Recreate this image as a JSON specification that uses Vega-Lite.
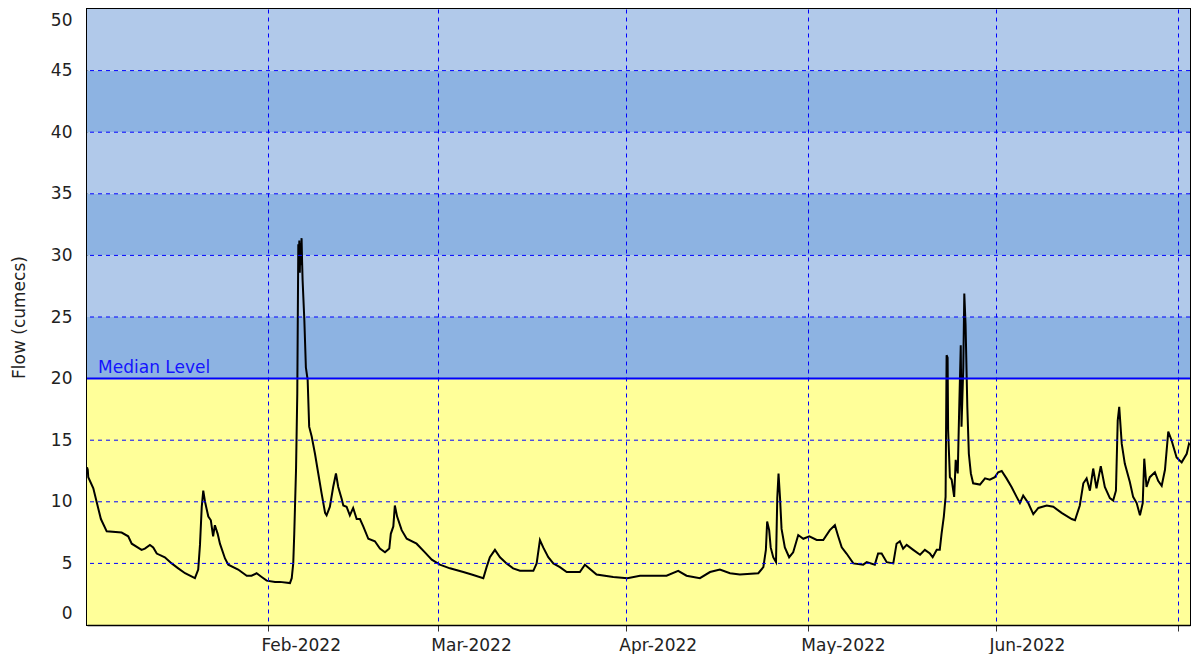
{
  "$schema": "https://vega.github.io/schema/vega-lite/v6.json",
  "width": 1103,
  "height": 616,
  "autosize": {"type": "none"},
  "padding": {"left": 87, "top": 9, "right": 2, "bottom": 29},
  "background": "white",
  "config": {
    "font": "DejaVu Sans",
    "view": {"stroke": "black", "strokeWidth": 2},
    "axisX": {
      "domainColor": "black", "domainWidth": 1.5, "tickColor": "#333", "tickSize": 6,
      "labelPadding": 6, "labelAlign": "left", "labelOffset": -7, "labelFontSize": 17,
      "labelColor": "#222", "labelFlush": false
    },
    "axisY": {
      "domainColor": "black", "domainWidth": 1.5, "ticks": false, "tickSize": 0, "labelPadding": 15,
      "labelFontSize": 17, "labelColor": "#222", "labelFlush": true, "labelFlushOffset": -3,
      "titleFontSize": 17, "titleFontWeight": "normal", "titleColor": "#222", "titlePadding": 22, "grid": false
    }
  },
  "layer": [
    {
      "data": {"values": [
        {"lo": 0, "hi": 20, "band": "below"},
        {"lo": 20, "hi": 25, "band": "dark"},
        {"lo": 25, "hi": 30, "band": "light"},
        {"lo": 30, "hi": 35, "band": "dark"},
        {"lo": 35, "hi": 40, "band": "light"},
        {"lo": 40, "hi": 45, "band": "dark"},
        {"lo": 45, "hi": 50, "band": "light"}
      ]},
      "mark": {"type": "rect"},
      "encoding": {
        "y": {"field": "lo", "type": "quantitative", "title": "Flow (cumecs)",
              "scale": {"domain": [0, 50], "nice": false},
              "axis": {"values": [0, 5, 10, 15, 20, 25, 30, 35, 40, 45, 50], "zindex": 0, "grid": false}},
        "y2": {"field": "hi"},
        "color": {"field": "band", "type": "nominal",
                  "scale": {"domain": ["below", "dark", "light"], "range": ["#ffff99", "#8db3e2", "#b1c9ea"]},
                  "legend": null}
      }
    },
    {
      "data": {"values": [
        {"t": "2022-01-02T04:00", "flow": 12.8},
        {"t": "2022-01-02T07:00", "flow": 12.6},
        {"t": "2022-01-02T09:00", "flow": 12.0},
        {"t": "2022-01-03T05:00", "flow": 11.1},
        {"t": "2022-01-03T18:00", "flow": 10.0},
        {"t": "2022-01-04T11:00", "flow": 8.6},
        {"t": "2022-01-05T10:00", "flow": 7.6},
        {"t": "2022-01-07T21:00", "flow": 7.5},
        {"t": "2022-01-08T23:00", "flow": 7.2},
        {"t": "2022-01-09T13:00", "flow": 6.6},
        {"t": "2022-01-11T04:00", "flow": 6.1},
        {"t": "2022-01-11T17:00", "flow": 6.2},
        {"t": "2022-01-12T13:00", "flow": 6.5},
        {"t": "2022-01-13T02:00", "flow": 6.3},
        {"t": "2022-01-13T16:00", "flow": 5.8},
        {"t": "2022-01-15T00:00", "flow": 5.5},
        {"t": "2022-01-16T03:00", "flow": 5.0},
        {"t": "2022-01-17T05:00", "flow": 4.6},
        {"t": "2022-01-18T08:00", "flow": 4.2},
        {"t": "2022-01-19T23:00", "flow": 3.8},
        {"t": "2022-01-20T12:00", "flow": 4.5},
        {"t": "2022-01-20T19:00", "flow": 6.5},
        {"t": "2022-01-21T02:00", "flow": 9.6},
        {"t": "2022-01-21T08:00", "flow": 10.9},
        {"t": "2022-01-21T15:00", "flow": 10.0},
        {"t": "2022-01-22T04:00", "flow": 8.8},
        {"t": "2022-01-22T14:00", "flow": 8.5},
        {"t": "2022-01-22T23:00", "flow": 7.2},
        {"t": "2022-01-23T06:00", "flow": 8.1},
        {"t": "2022-01-23T17:00", "flow": 7.4},
        {"t": "2022-01-24T02:00", "flow": 6.6},
        {"t": "2022-01-24T22:00", "flow": 5.4},
        {"t": "2022-01-25T11:00", "flow": 4.9},
        {"t": "2022-01-27T02:00", "flow": 4.5},
        {"t": "2022-01-28T12:00", "flow": 4.0},
        {"t": "2022-01-29T07:00", "flow": 4.0},
        {"t": "2022-01-30T03:00", "flow": 4.2},
        {"t": "2022-01-30T23:00", "flow": 3.9},
        {"t": "2022-01-31T19:00", "flow": 3.6},
        {"t": "2022-02-02T04:00", "flow": 3.5},
        {"t": "2022-02-02T23:00", "flow": 3.5},
        {"t": "2022-02-04T15:00", "flow": 3.4},
        {"t": "2022-02-04T22:00", "flow": 3.8},
        {"t": "2022-02-05T04:00", "flow": 5.0},
        {"t": "2022-02-05T08:00", "flow": 7.4},
        {"t": "2022-02-05T15:00", "flow": 12.6},
        {"t": "2022-02-05T20:00", "flow": 18.8},
        {"t": "2022-02-06T00:00", "flow": 30.9},
        {"t": "2022-02-06T02:00", "flow": 29.0},
        {"t": "2022-02-06T04:00", "flow": 31.2},
        {"t": "2022-02-06T06:00", "flow": 28.6},
        {"t": "2022-02-06T08:00", "flow": 31.0},
        {"t": "2022-02-06T10:00", "flow": 29.2},
        {"t": "2022-02-06T13:00", "flow": 31.4},
        {"t": "2022-02-06T15:00", "flow": 29.5},
        {"t": "2022-02-06T17:00", "flow": 28.0},
        {"t": "2022-02-07T00:00", "flow": 24.7},
        {"t": "2022-02-07T06:00", "flow": 20.9},
        {"t": "2022-02-07T13:00", "flow": 19.9},
        {"t": "2022-02-07T19:00", "flow": 16.1},
        {"t": "2022-02-08T05:00", "flow": 15.3},
        {"t": "2022-02-08T18:00", "flow": 13.9},
        {"t": "2022-02-09T07:00", "flow": 12.3},
        {"t": "2022-02-09T20:00", "flow": 10.7},
        {"t": "2022-02-10T10:00", "flow": 9.1},
        {"t": "2022-02-10T16:00", "flow": 8.9},
        {"t": "2022-02-11T05:00", "flow": 9.6},
        {"t": "2022-02-11T18:00", "flow": 11.2},
        {"t": "2022-02-12T05:00", "flow": 12.3},
        {"t": "2022-02-12T14:00", "flow": 11.2},
        {"t": "2022-02-13T04:00", "flow": 10.2},
        {"t": "2022-02-13T10:00", "flow": 9.7},
        {"t": "2022-02-13T23:00", "flow": 9.6},
        {"t": "2022-02-14T12:00", "flow": 8.9},
        {"t": "2022-02-15T01:00", "flow": 9.5},
        {"t": "2022-02-15T15:00", "flow": 8.6},
        {"t": "2022-02-16T04:00", "flow": 8.6},
        {"t": "2022-02-16T17:00", "flow": 8.0},
        {"t": "2022-02-17T13:00", "flow": 7.0},
        {"t": "2022-02-18T15:00", "flow": 6.8},
        {"t": "2022-02-19T11:00", "flow": 6.2},
        {"t": "2022-02-20T07:00", "flow": 5.9},
        {"t": "2022-02-21T00:00", "flow": 6.2},
        {"t": "2022-02-21T06:00", "flow": 7.4},
        {"t": "2022-02-21T16:00", "flow": 8.0},
        {"t": "2022-02-21T22:00", "flow": 9.7},
        {"t": "2022-02-22T07:00", "flow": 8.8},
        {"t": "2022-02-23T01:00", "flow": 7.7},
        {"t": "2022-02-23T21:00", "flow": 7.0},
        {"t": "2022-02-25T12:00", "flow": 6.6},
        {"t": "2022-02-26T21:00", "flow": 5.9},
        {"t": "2022-02-28T00:00", "flow": 5.3},
        {"t": "2022-03-01T08:00", "flow": 4.9},
        {"t": "2022-03-03T00:00", "flow": 4.6},
        {"t": "2022-03-05T05:00", "flow": 4.3},
        {"t": "2022-03-06T14:00", "flow": 4.1},
        {"t": "2022-03-08T12:00", "flow": 3.8},
        {"t": "2022-03-09T01:00", "flow": 4.7},
        {"t": "2022-03-09T14:00", "flow": 5.5},
        {"t": "2022-03-10T10:00", "flow": 6.1},
        {"t": "2022-03-11T06:00", "flow": 5.5},
        {"t": "2022-03-12T08:00", "flow": 5.0},
        {"t": "2022-03-13T10:00", "flow": 4.6},
        {"t": "2022-03-14T13:00", "flow": 4.4},
        {"t": "2022-03-16T18:00", "flow": 4.4},
        {"t": "2022-03-17T07:00", "flow": 5.0},
        {"t": "2022-03-17T20:00", "flow": 6.9},
        {"t": "2022-03-18T09:00", "flow": 6.3},
        {"t": "2022-03-19T05:00", "flow": 5.5},
        {"t": "2022-03-20T01:00", "flow": 5.0},
        {"t": "2022-03-21T03:00", "flow": 4.7},
        {"t": "2022-03-22T06:00", "flow": 4.3},
        {"t": "2022-03-24T10:00", "flow": 4.3},
        {"t": "2022-03-25T06:00", "flow": 4.9},
        {"t": "2022-03-27T04:00", "flow": 4.1},
        {"t": "2022-03-29T22:00", "flow": 3.9},
        {"t": "2022-04-01T06:00", "flow": 3.8},
        {"t": "2022-04-03T08:00", "flow": 4.0},
        {"t": "2022-04-07T17:00", "flow": 4.0},
        {"t": "2022-04-09T15:00", "flow": 4.4},
        {"t": "2022-04-11T00:00", "flow": 4.0},
        {"t": "2022-04-13T05:00", "flow": 3.8},
        {"t": "2022-04-14T21:00", "flow": 4.3},
        {"t": "2022-04-16T12:00", "flow": 4.5},
        {"t": "2022-04-18T04:00", "flow": 4.2},
        {"t": "2022-04-19T19:00", "flow": 4.1},
        {"t": "2022-04-22T20:00", "flow": 4.2},
        {"t": "2022-04-23T16:00", "flow": 4.7},
        {"t": "2022-04-24T02:00", "flow": 6.1},
        {"t": "2022-04-24T07:00", "flow": 8.4},
        {"t": "2022-04-24T15:00", "flow": 7.7},
        {"t": "2022-04-24T21:00", "flow": 6.3},
        {"t": "2022-04-25T07:00", "flow": 5.5},
        {"t": "2022-04-25T18:00", "flow": 5.1},
        {"t": "2022-04-25T23:00", "flow": 10.3},
        {"t": "2022-04-26T04:00", "flow": 12.3},
        {"t": "2022-04-26T10:00", "flow": 10.3},
        {"t": "2022-04-26T16:00", "flow": 7.8},
        {"t": "2022-04-27T05:00", "flow": 6.3},
        {"t": "2022-04-27T22:00", "flow": 5.5},
        {"t": "2022-04-28T14:00", "flow": 5.9},
        {"t": "2022-04-29T10:00", "flow": 7.3},
        {"t": "2022-04-30T06:00", "flow": 7.0},
        {"t": "2022-05-01T06:00", "flow": 7.2},
        {"t": "2022-05-02T11:00", "flow": 6.9},
        {"t": "2022-05-03T13:00", "flow": 6.9},
        {"t": "2022-05-04T15:00", "flow": 7.7},
        {"t": "2022-05-05T11:00", "flow": 8.1},
        {"t": "2022-05-06T00:00", "flow": 7.2},
        {"t": "2022-05-06T14:00", "flow": 6.3},
        {"t": "2022-05-07T09:00", "flow": 5.8},
        {"t": "2022-05-08T12:00", "flow": 5.0},
        {"t": "2022-05-10T03:00", "flow": 4.9},
        {"t": "2022-05-10T17:00", "flow": 5.1},
        {"t": "2022-05-12T01:00", "flow": 4.9},
        {"t": "2022-05-12T14:00", "flow": 5.8},
        {"t": "2022-05-13T04:00", "flow": 5.8},
        {"t": "2022-05-14T00:00", "flow": 5.1},
        {"t": "2022-05-15T02:00", "flow": 5.0},
        {"t": "2022-05-15T15:00", "flow": 6.6},
        {"t": "2022-05-16T04:00", "flow": 6.8},
        {"t": "2022-05-16T17:00", "flow": 6.2},
        {"t": "2022-05-17T07:00", "flow": 6.5},
        {"t": "2022-05-18T09:00", "flow": 6.1},
        {"t": "2022-05-19T12:00", "flow": 5.7},
        {"t": "2022-05-20T07:00", "flow": 6.1},
        {"t": "2022-05-21T03:00", "flow": 5.8},
        {"t": "2022-05-21T14:00", "flow": 5.5},
        {"t": "2022-05-22T06:00", "flow": 6.1},
        {"t": "2022-05-22T18:00", "flow": 6.1},
        {"t": "2022-05-23T01:00", "flow": 7.4},
        {"t": "2022-05-23T10:00", "flow": 8.8},
        {"t": "2022-05-23T17:00", "flow": 10.4},
        {"t": "2022-05-23T21:00", "flow": 21.9},
        {"t": "2022-05-24T01:00", "flow": 21.7},
        {"t": "2022-05-24T03:00", "flow": 15.8},
        {"t": "2022-05-24T10:00", "flow": 12.0},
        {"t": "2022-05-24T17:00", "flow": 11.8},
        {"t": "2022-05-25T03:00", "flow": 10.4},
        {"t": "2022-05-25T09:00", "flow": 13.4},
        {"t": "2022-05-25T17:00", "flow": 12.3},
        {"t": "2022-05-25T23:00", "flow": 17.7},
        {"t": "2022-05-26T05:00", "flow": 22.7},
        {"t": "2022-05-26T08:00", "flow": 16.1},
        {"t": "2022-05-26T15:00", "flow": 20.9},
        {"t": "2022-05-26T19:00", "flow": 26.9},
        {"t": "2022-05-27T00:00", "flow": 24.4},
        {"t": "2022-05-27T07:00", "flow": 17.7},
        {"t": "2022-05-27T13:00", "flow": 13.9},
        {"t": "2022-05-27T21:00", "flow": 12.3},
        {"t": "2022-05-28T06:00", "flow": 11.5},
        {"t": "2022-05-29T09:00", "flow": 11.4},
        {"t": "2022-05-30T05:00", "flow": 11.9},
        {"t": "2022-05-31T00:00", "flow": 11.8},
        {"t": "2022-05-31T20:00", "flow": 12.0},
        {"t": "2022-06-01T09:00", "flow": 12.4},
        {"t": "2022-06-01T23:00", "flow": 12.5},
        {"t": "2022-06-02T18:00", "flow": 11.9},
        {"t": "2022-06-03T14:00", "flow": 11.2},
        {"t": "2022-06-04T10:00", "flow": 10.4},
        {"t": "2022-06-04T23:00", "flow": 9.9},
        {"t": "2022-06-05T12:00", "flow": 10.5},
        {"t": "2022-06-06T08:00", "flow": 9.9},
        {"t": "2022-06-07T04:00", "flow": 9.0},
        {"t": "2022-06-08T00:00", "flow": 9.5},
        {"t": "2022-06-09T09:00", "flow": 9.7},
        {"t": "2022-06-10T11:00", "flow": 9.6},
        {"t": "2022-06-11T20:00", "flow": 9.1},
        {"t": "2022-06-13T12:00", "flow": 8.6},
        {"t": "2022-06-14T01:00", "flow": 8.5},
        {"t": "2022-06-14T20:00", "flow": 9.7},
        {"t": "2022-06-15T10:00", "flow": 11.5},
        {"t": "2022-06-15T23:00", "flow": 11.9},
        {"t": "2022-06-16T12:00", "flow": 10.9},
        {"t": "2022-06-17T01:00", "flow": 12.7},
        {"t": "2022-06-17T14:00", "flow": 11.1},
        {"t": "2022-06-18T07:00", "flow": 12.9},
        {"t": "2022-06-18T23:00", "flow": 11.2},
        {"t": "2022-06-19T19:00", "flow": 10.3},
        {"t": "2022-06-20T08:00", "flow": 10.1},
        {"t": "2022-06-20T19:00", "flow": 10.9},
        {"t": "2022-06-21T02:00", "flow": 16.6},
        {"t": "2022-06-21T08:00", "flow": 17.7},
        {"t": "2022-06-21T18:00", "flow": 14.7},
        {"t": "2022-06-22T06:00", "flow": 13.1},
        {"t": "2022-06-23T02:00", "flow": 11.6},
        {"t": "2022-06-23T15:00", "flow": 10.4},
        {"t": "2022-06-24T05:00", "flow": 9.9},
        {"t": "2022-06-24T18:00", "flow": 8.9},
        {"t": "2022-06-25T05:00", "flow": 9.9},
        {"t": "2022-06-25T11:00", "flow": 13.5},
        {"t": "2022-06-25T20:00", "flow": 11.2},
        {"t": "2022-06-26T09:00", "flow": 12.0},
        {"t": "2022-06-27T05:00", "flow": 12.4},
        {"t": "2022-06-27T18:00", "flow": 11.7},
        {"t": "2022-06-28T08:00", "flow": 11.3},
        {"t": "2022-06-28T21:00", "flow": 12.6},
        {"t": "2022-06-29T10:00", "flow": 15.7},
        {"t": "2022-06-29T23:00", "flow": 15.0},
        {"t": "2022-06-30T19:00", "flow": 13.6},
        {"t": "2022-07-01T15:00", "flow": 13.2},
        {"t": "2022-07-02T11:00", "flow": 13.9},
        {"t": "2022-07-02T20:00", "flow": 14.7},
        {"t": "2022-07-02T23:00", "flow": 14.6}
      ]},
      "mark": {"type": "line", "color": "black", "strokeWidth": 2, "clip": true},
      "encoding": {
        "x": {"field": "t", "type": "temporal", "title": null,
              "scale": {"domain": ["2022-01-02T04:00", "2022-07-03T00:00"]},
              "axis": {"format": "%b-%Y", "tickCount": {"interval": "month", "step": 1},
                       "zindex": 1, "grid": true, "gridColor": "#0000ff", "gridDash": [4, 4],
                       "gridWidth": 1, "gridOpacity": 1, "labelBound": true, "labelOverlap": true}},
        "y": {"field": "flow", "type": "quantitative", "title": "Flow (cumecs)"}
      }
    },
    {
      "data": {"values": [{"g": 5}, {"g": 10}, {"g": 15}, {"g": 25}, {"g": 30}, {"g": 35}, {"g": 40}, {"g": 45}]},
      "mark": {"type": "rule", "color": "#0000ff", "strokeWidth": 1, "strokeDash": [4, 4]},
      "encoding": {"y": {"field": "g", "type": "quantitative", "title": "Flow (cumecs)"}}
    },
    {
      "data": {"values": [{"label": "Median Level", "level": 20, "start": "2022-01-04T00:00"}]},
      "layer": [
        {
          "mark": {"type": "rule", "color": "#0000ff", "strokeWidth": 2},
          "encoding": {"y": {"field": "level", "type": "quantitative", "title": "Flow (cumecs)"}}
        },
        {
          "mark": {"type": "text", "color": "#1414ff", "fontSize": 17, "align": "left", "baseline": "alphabetic", "dy": -6},
          "encoding": {
            "x": {"field": "start", "type": "temporal", "title": null},
            "y": {"field": "level", "type": "quantitative", "title": "Flow (cumecs)"},
            "text": {"field": "label"}
          }
        }
      ]
    }
  ]
}
